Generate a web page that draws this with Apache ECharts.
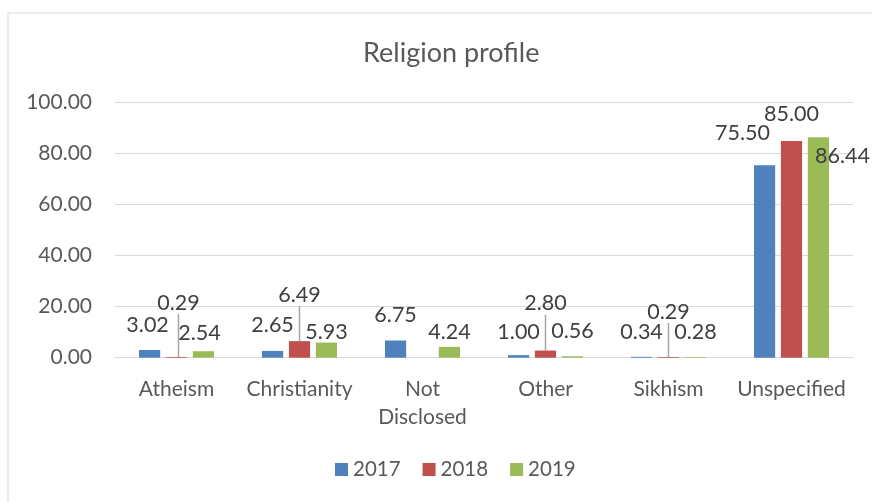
<!DOCTYPE html>
<html><head><meta charset="utf-8">
<script src="https://cdn.jsdelivr.net/npm/echarts@6/dist/echarts.min.js"></script>
<style>html,body{margin:0;padding:0;background:#fff}#c{width:872px;height:502px}</style>
</head><body><div id="c"></div>
<script>
const categories = ['Atheism', 'Christianity', 'Not\nDisclosed', 'Other', 'Sikhism', 'Unspecified'];
const seriesNames = ['2017', '2018', '2019'];
const values2017 = [3.02, 2.65, 6.75, 1.00, 0.34, 75.50];
const values2018 = [0.29, 6.49, null, 2.80, 0.29, 85.00];
const values2019 = [2.54, 5.93, 4.24, 0.56, 0.28, 86.44];
const yTicks = [0, 20, 40, 60, 80, 100];
const colors = ['#4F81BD', '#C0504D', '#9BBB59'];

// label nudges [dx, dy] per series / category (styling only)
const labelNudge = [
  [[-2,-9],[0,-10],[0,-9],[0,-7],[0,-9],[-22,-16]],
  [[2,-38],[0,-30],[0,0],[0,-31],[0,-29],[0,-11]],
  [[-4,-2],[0,5],[0,1],[0,-9],[0,-9],[24,35]]
];
const leader = [
  [false,false,false,false,false,false],
  [true,true,false,true,true,false],
  [false,false,false,false,false,false]
];
const allValues = [values2017, values2018, values2019];
const font = 'Lato, "Open Sans", sans-serif';

const chart = echarts.init(document.getElementById('c'));
chart.setOption({
  animation: false,
  textStyle: { fontFamily: font },
  title: { text: 'Religion profile', left: 358, top: 35,
    textStyle: { fontFamily: font, fontSize: 27, fontWeight: 'normal', color: '#595959' } },
  graphic: [{ type: 'rect', shape: { x: 8, y: 13, width: 900, height: 520 },
    style: { fill: 'none', stroke: '#D9D9D9', lineWidth: 1 }, silent: true }],
  legend: { bottom: 17, left: 330, itemWidth: 13, itemHeight: 13, itemGap: 22,
    icon: 'rect', textStyle: { fontFamily: font, fontSize: 20.5, color: '#595959' },
    data: seriesNames },
  grid: { left: 115, right: 19, top: 102.7, bottom: 144.3, containLabel: false },
  xAxis: { type: 'category', data: categories,
    axisLine: { show: true, lineStyle: { color: '#D9D9D9' } },
    axisTick: { show: false },
    axisLabel: { interval: 0, hideOverlap: false, fontFamily: font, fontSize: 21, color: '#595959', margin: 18, lineHeight: 28 } },
  yAxis: { type: 'value', min: 0, max: 100, interval: 20,
    axisLine: { show: false }, axisTick: { show: false },
    splitLine: { lineStyle: { color: '#D9D9D9' } },
    axisLabel: { fontFamily: font, fontSize: 21, color: '#595959', margin: 23,
      formatter: v => yTicks.includes(v) ? v.toFixed(2) : '' } },
  series: seriesNames.map((name, si) => ({
    name, type: 'bar', barGap: '27%', barCategoryGap: '39%',
    itemStyle: { color: colors[si] },
    data: allValues[si].map((v, ci) => ({
      value: v,
      labelLine: { show: leader[si][ci], lineStyle: { color: '#A6A6A6', width: 1.5 } }
    })),
    label: { show: true, position: 'top', distance: 5, fontFamily: font, fontSize: 21.5,
      color: '#404040', formatter: p => p.value == null ? '' : Number(p.value).toFixed(2) },
    labelLayout: p => {
      const n = labelNudge[p.seriesIndex][p.dataIndex];
      return { dx: n[0], dy: n[1] };
    }
  }))
});
</script></body></html>
